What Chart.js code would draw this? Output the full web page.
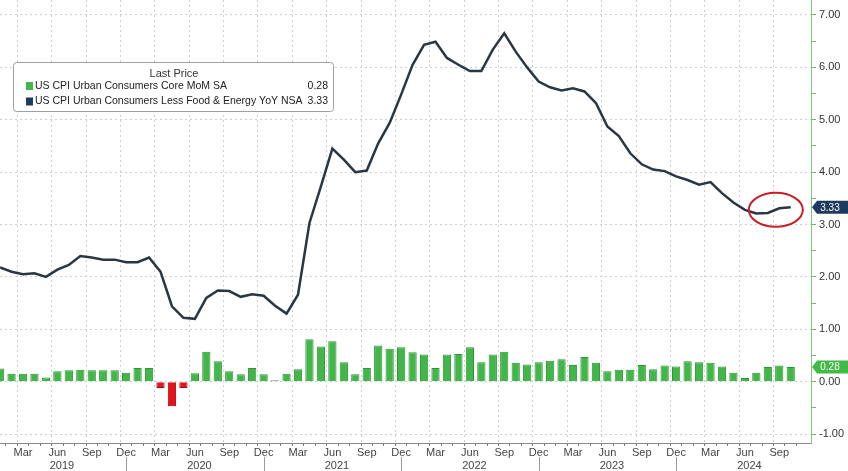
<!DOCTYPE html>
<html>
<head>
<meta charset="utf-8">
<script src="https://cdn.jsdelivr.net/npm/chart.js@4"></script>
<style>
html,body{margin:0;padding:0;background:#fff;}
#wrap{width:848px;height:471px;position:relative;}
</style>
</head>
<body>
<div id="wrap"><canvas id="c" width="848" height="471"></canvas></div>
<script>
// ---------- DATA ----------
const monthNames = ['Jan','Feb','Mar','Apr','May','Jun','Jul','Aug','Sep','Oct','Nov','Dec'];
const years = [2019, 2020, 2021, 2022, 2023, 2024];
const lastMonthIndex2024 = 9; // Oct 2024
const categories = [];
years.forEach(y => monthNames.forEach((m, i) => {
  if (y < 2024 || i <= lastMonthIndex2024) categories.push(m + ' ' + y);
}));

// US CPI Urban Consumers Less Food & Energy YoY NSA (line)
const coreYoY = [
  2.18, 2.10, 2.05, 2.07, 2.00, 2.14, 2.23, 2.40, 2.37, 2.33, 2.33, 2.28,
  2.28, 2.37, 2.10, 1.44, 1.22, 1.20, 1.60, 1.74, 1.73, 1.62, 1.67, 1.64,
  1.45, 1.30, 1.66, 3.03, 3.73, 4.45, 4.24, 4.00, 4.03, 4.55, 4.94, 5.48,
  6.05, 6.43, 6.49, 6.18, 6.05, 5.93, 5.93, 6.34, 6.65, 6.30, 6.00, 5.73,
  5.62, 5.56, 5.60, 5.54, 5.32, 4.87, 4.69, 4.36, 4.15, 4.05, 4.02, 3.92,
  3.85, 3.76, 3.81, 3.60, 3.42, 3.28, 3.21, 3.22, 3.31, 3.33
];

// US CPI Urban Consumers Core MoM SA (bars)
const coreMoM = [
  0.25, 0.15, 0.15, 0.15, 0.08, 0.20, 0.22, 0.23, 0.22, 0.22, 0.22, 0.17,
  0.26, 0.26, -0.12, -0.47, -0.12, 0.16, 0.57, 0.39, 0.20, 0.14, 0.26, 0.14,
  0.03, 0.15, 0.24, 0.81, 0.67, 0.77, 0.37, 0.14, 0.26, 0.69, 0.63, 0.66,
  0.56, 0.52, 0.26, 0.52, 0.53, 0.66, 0.37, 0.52, 0.57, 0.36, 0.33, 0.37,
  0.40, 0.43, 0.32, 0.47, 0.36, 0.20, 0.23, 0.23, 0.32, 0.24, 0.31, 0.29,
  0.39, 0.37, 0.36, 0.29, 0.17, 0.07, 0.17, 0.28, 0.31, 0.28
];

const yTickValues = [-1, 0, 1, 2, 3, 4, 5, 6, 7];
const lastYoY = 3.33;
const lastMoM = 0.28;
const seriesNames = ['US CPI Urban Consumers Core MoM SA', 'US CPI Urban Consumers Less Food & Energy YoY NSA'];
const legendTitle = 'Last Price';
const quarterMonths = [2, 5, 8, 11];

// ---------- STYLE ----------
const FONT = "'Liberation Sans', Arial, sans-serif";
const GREEN = '#42b649', GREEN_DARK = '#2e9636';
const RED = '#e3121b', RED_DARK = '#b0070e';
const NAVY = '#1f3a5f';
const LINE = '#2a3743';
const GRID = '#cfcfcf';

const minorY = [];
for (let v = -1; v <= 7; v += 0.5) minorY.push(v);

const overlay = {
  id: 'overlay',
  afterDraw(chart) {
    const ctx = chart.ctx;
    const xs = chart.scales.x, ys = chart.scales.y;
    const area = chart.chartArea;
    ctx.save();

    // year separators and labels
    ctx.strokeStyle = '#9a9a9a';
    ctx.lineWidth = 1;
    years.forEach((y, k) => {
      const decIdx = k * 12 + 11;
      if (decIdx < categories.length) {
        const px = Math.round(xs.getPixelForValue(decIdx)) + 0.5;
        ctx.beginPath(); ctx.moveTo(px, area.bottom + 14); ctx.lineTo(px, 471); ctx.stroke();
      }
    });
    ctx.fillStyle = '#444';
    ctx.font = '11px ' + FONT;
    ctx.textAlign = 'center';
    ctx.textBaseline = 'middle';
    years.forEach((y, k) => {
      const cx = xs.getPixelForValue(k * 12 + 5.4);
      ctx.fillText(String(y), cx, 465.5);
    });

    // red ellipse annotation
    const ex = xs.getPixelForValue(67.7), ey = ys.getPixelForValue(3.28);
    ctx.strokeStyle = '#c81e28';
    ctx.lineWidth = 2;
    ctx.beginPath(); ctx.ellipse(ex, ey, 27, 17, 0, 0, Math.PI * 2); ctx.stroke();

    // last value boxes
    const box = (val, bg, fg) => {
      const yv = ys.getPixelForValue(val);
      ctx.fillStyle = bg;
      ctx.beginPath();
      ctx.moveTo(area.right + 1, yv);
      ctx.lineTo(area.right + 6, yv - 6.5);
      ctx.lineTo(848, yv - 6.5);
      ctx.lineTo(848, yv + 6.5);
      ctx.lineTo(area.right + 6, yv + 6.5);
      ctx.closePath();
      ctx.fill();
      ctx.fillStyle = fg;
      ctx.font = '10px ' + FONT;
      ctx.textAlign = 'center';
      ctx.textBaseline = 'middle';
      ctx.fillText(val.toFixed(2), 830, yv + 0.5);
    };
    box(lastYoY, NAVY, '#ffffff');
    box(lastMoM, '#45b84a', '#f2fff2');

    // legend box
    ctx.fillStyle = '#ffffff';
    ctx.strokeStyle = '#a0a0a0';
    ctx.lineWidth = 1;
    ctx.beginPath();
    ctx.roundRect(13.5, 62.5, 320, 49, 3);
    ctx.fill(); ctx.stroke();
    ctx.fillStyle = '#333';
    ctx.font = '11px ' + FONT;
    ctx.textAlign = 'center';
    ctx.textBaseline = 'middle';
    ctx.fillText(legendTitle, 174, 74);
    const rows = [[seriesNames[0], lastMoM, GREEN, 86], [seriesNames[1], lastYoY, NAVY, 101.5]];
    rows.forEach(([name, val, col, yy]) => {
      ctx.fillStyle = col;
      ctx.fillRect(26, yy - 4, 7, 8);
      ctx.fillStyle = '#222';
      ctx.font = '10.5px ' + FONT;
      ctx.textAlign = 'left';
      ctx.fillText(name, 35, yy);
      ctx.textAlign = 'right';
      ctx.fillText(val.toFixed(2), 328, yy);
    });
    ctx.restore();
  }
};

new Chart(document.getElementById('c'), {
  type: 'bar',
  data: {
    datasets: [
      {
        type: 'line',
        label: seriesNames[1],
        data: coreYoY.map((v, i) => ({ x: i, y: v })),
        borderColor: LINE,
        borderWidth: 2.5,
        pointRadius: 0,
        tension: 0,
        order: 0
      },
      {
        type: 'bar',
        label: seriesNames[0],
        data: coreMoM.map((v, i) => ({ x: i, y: v })),
        backgroundColor: coreMoM.map(v => v < 0 ? RED : GREEN),
        borderColor: coreMoM.map(v => v < 0 ? RED_DARK : GREEN_DARK),
        borderWidth: 1,
        barPercentage: 0.72,
        categoryPercentage: 1,
        order: 1
      }
    ]
  },
  options: {
    responsive: false,
    animation: false,
    devicePixelRatio: 1,
    layout: { padding: 0 },
    plugins: { legend: { display: false }, tooltip: { enabled: false } },
    scales: {
      x: {
        type: 'linear',
        min: -0.007,
        max: 70.77,
        offset: false,
        afterBuildTicks: s => { s.ticks = categories.map((_, i) => ({ value: i })); },
        afterFit: s => { s.height = 28; s.paddingLeft = 0; s.paddingRight = 0; },
        ticks: {
          autoSkip: false, maxRotation: 0, minRotation: 0, padding: 0,
          color: '#444', font: { family: FONT, size: 11 },
          callback: (v) => { const m = Math.round(v) % 12; return quarterMonths.includes(m) ? monthNames[m] : ''; }
        },
        grid: {
          color: c => (c.tick && quarterMonths.includes(Math.round(c.tick.value) % 12)) ? GRID : 'rgba(0,0,0,0)',
          tickColor: '#777',
          tickLength: 3,
          lineWidth: 1
        },
        border: { display: true, color: '#888', width: 1, dash: [2, 3] }
      },
      y: {
        position: 'right',
        min: -1.17,
        max: 7.286,
        afterBuildTicks: s => { s.ticks = minorY.map(v => ({ value: v })); },
        afterFit: s => { s.width = 37; s.paddingTop = 0; s.paddingBottom = 0; },
        ticks: {
          padding: 3, color: '#333', font: { family: FONT, size: 11 },
          callback: v => yTickValues.includes(v) ? v.toFixed(2) : ''
        },
        grid: {
          color: c => (c.tick && yTickValues.includes(c.tick.value)) ? GRID : 'rgba(0,0,0,0)',
          tickColor: '#6bbf6b',
          tickLength: 5
        },
        border: { display: true, color: '#7cc97c', width: 1, dash: [2, 3] }
      }
    }
  },
  plugins: [overlay]
});
</script>
</body>
</html>
